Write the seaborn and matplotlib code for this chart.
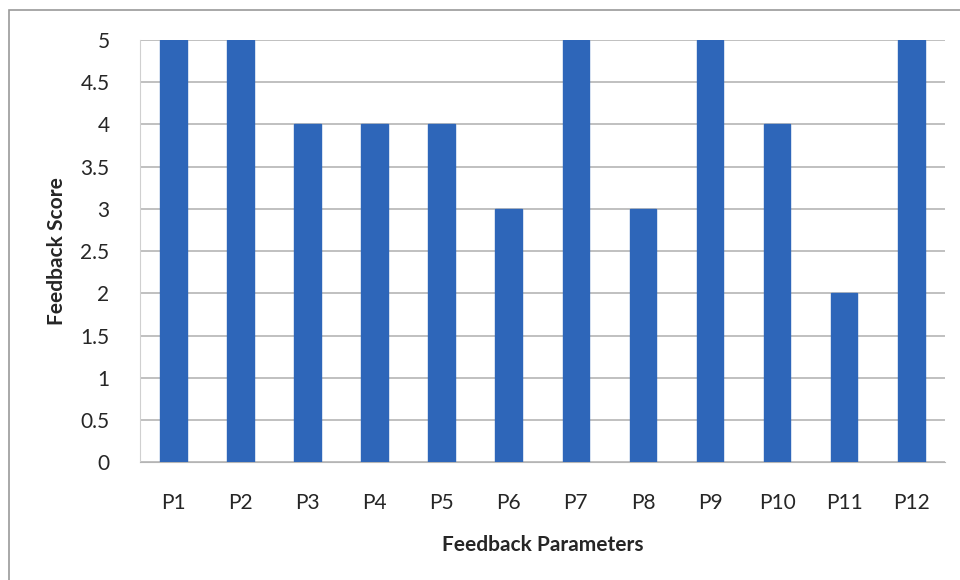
import pandas as pd
import matplotlib.pyplot as plt
import seaborn as sns
from matplotlib.patches import Rectangle

params = ["P1", "P2", "P3", "P4", "P5", "P6", "P7", "P8", "P9", "P10", "P11", "P12"]
scores = [5, 5, 4, 4, 4, 3, 5, 3, 5, 4, 2, 5]
yticks = [0, 0.5, 1, 1.5, 2, 2.5, 3, 3.5, 4, 4.5, 5]
ytick_labels = ["0", "0.5", "1", "1.5", "2", "2.5", "3", "3.5", "4", "4.5", "5"]

df = pd.DataFrame({"Parameter": params, "Score": scores})

sns.set_style("white")
plt.rcParams["font.family"] = ["Lato", "DejaVu Sans"]

fig = plt.figure(figsize=(9.6, 5.8), dpi=100)
ax = fig.add_axes([0.146, 0.203, 0.838, 0.728])

# outer chart border
fig.patches.append(Rectangle((0.009, -0.01), 1.0, 0.993, transform=fig.transFigure,
                             fill=False, edgecolor="#9a9a9a", linewidth=1.2))

sns.barplot(data=df, x="Parameter", y="Score", color="#2E66B9", width=0.4,
            saturation=1, edgecolor="#2E66B9", ax=ax, zorder=3)

ax.set_ylim(0, 5)
ax.set_yticks(yticks)
ax.set_yticklabels(ytick_labels, fontsize=15)
ax.tick_params(axis="x", labelsize=15, length=0, pad=22)
ax.tick_params(axis="y", length=0, pad=22)
ax.yaxis.grid(True, color="#b5b5b5", linewidth=1.2, zorder=0)
ax.set_axisbelow(True)
for s in ["top", "right"]:
    ax.spines[s].set_visible(False)
ax.spines["left"].set_color("#d0d0d0")
ax.spines["bottom"].set_color("#b5b5b5")

ax.set_xlabel("Feedback Parameters", fontsize=15, fontweight="bold", labelpad=16)
ax.set_ylabel("Feedback Score", fontsize=15, fontweight="bold", labelpad=10)

fig.savefig("out.png", dpi=100)
